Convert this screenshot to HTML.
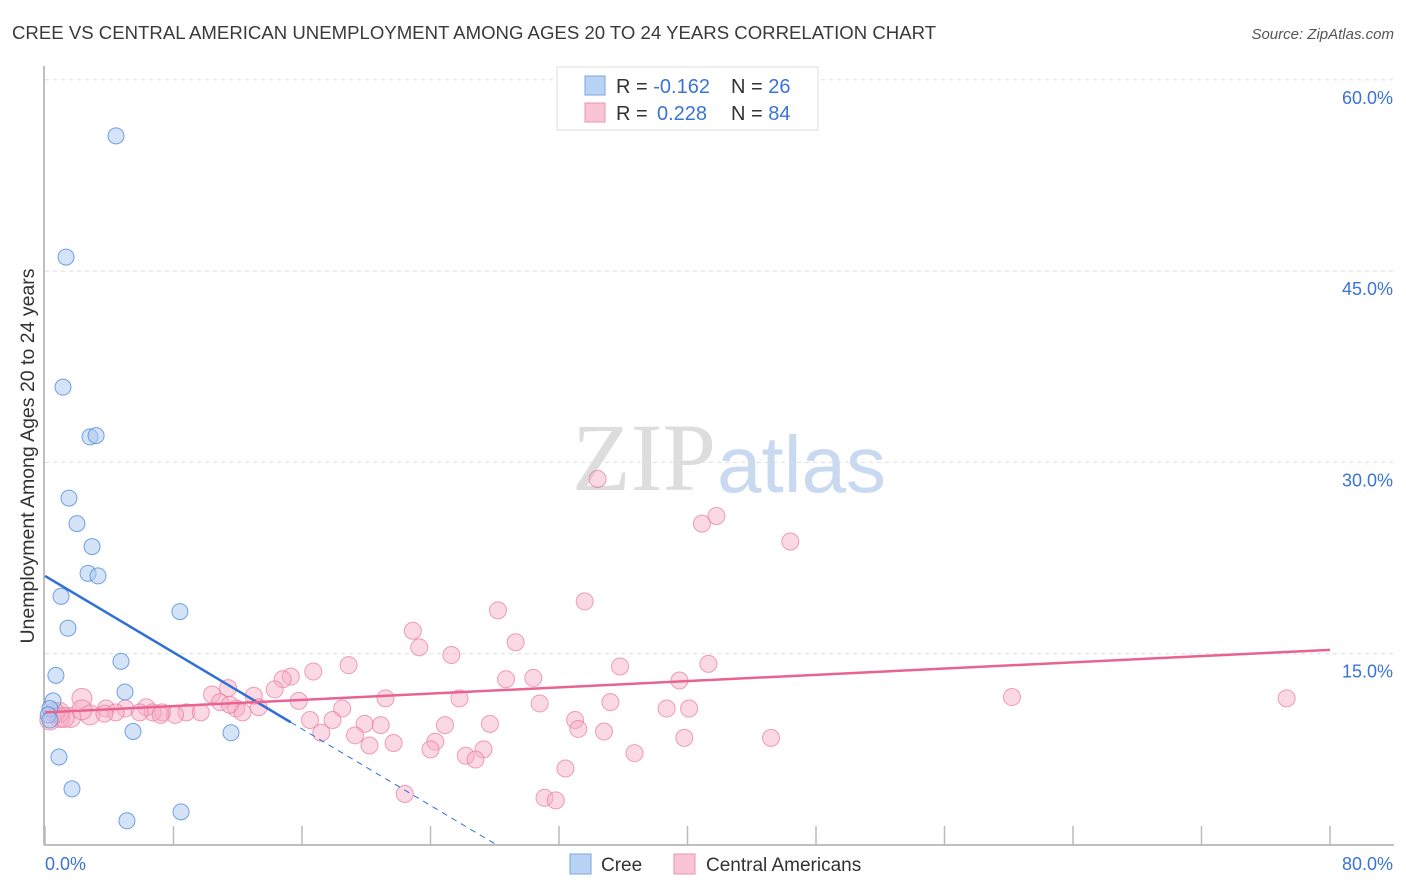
<!DOCTYPE html>
<html><head><meta charset="utf-8"><style>
body{margin:0;background:#fff;font-family:"Liberation Sans",sans-serif;}
svg{display:block}
</style></head><body>
<svg id="c" width="1406" height="892">
<text x="12" y="39" font-size="18.6" fill="#3a3a3a">CREE VS CENTRAL AMERICAN UNEMPLOYMENT AMONG AGES 20 TO 24 YEARS CORRELATION CHART</text>
<text x="1394" y="39" font-size="15" fill="#555" font-style="italic" text-anchor="end">Source: ZipAtlas.com</text>
<text x="716" y="490" font-size="96" font-family="Liberation Serif,serif" fill="#ddd" text-anchor="end">ZIP</text>
<text x="717" y="492" font-size="80" fill="#c9daf0">atlas</text>
<text transform="translate(34,456) rotate(-90)" font-size="19.5" fill="#333" text-anchor="middle">Unemployment Among Ages 20 to 24 years</text>
<g id="grid"></g><g id="pts"></g><g id="lines"></g>
<g>
<rect x="557" y="67" width="261" height="63" fill="#fff" stroke="#ddd"/>
<rect x="585" y="76" width="20" height="19" fill="#b9d3f5" stroke="#7aa5e0"/>
<rect x="585" y="103" width="20" height="19" fill="#f9c5d5" stroke="#ec93b0"/>
<text x="616" y="93" font-size="20" fill="#333">R = <tspan fill="#3a74d4">-0.162</tspan><tspan x="731">N = </tspan><tspan fill="#3a74d4">26</tspan></text>
<text x="616" y="120" font-size="20" fill="#333">R = <tspan x="657" fill="#3a74d4">0.228</tspan><tspan x="731">N = </tspan><tspan fill="#3a74d4">84</tspan></text>
</g>
<g>
<rect x="570" y="854" width="21" height="20" fill="#b9d3f5" stroke="#7aa5e0"/>
<text x="601" y="871" font-size="19" fill="#333">Cree</text>
<rect x="674" y="854" width="21" height="20" fill="#f9c5d5" stroke="#ec93b0"/>
<text x="706" y="871" font-size="19" fill="#333">Central Americans</text>
</g>
</svg>
<script>
const xTicks=[0,8,16,24,32,40,48,56,64,72,80];
const yTicks=[15,30,45,60];
const creeX=[4.42,1.31,1.12,2.8,3.18,1.49,1.99,2.93,2.68,3.3,1.0,1.43,8.4,4.73,0.68,4.98,0.5,0.3,0.2,0.3,5.48,11.58,0.87,1.68,8.47,5.1];
const creeY=[55.6,46.1,35.9,32.0,32.1,27.2,25.2,23.4,21.3,21.1,19.5,17.0,18.3,14.4,13.3,12.0,11.3,10.7,10.2,9.8,8.9,8.8,6.9,4.4,2.6,1.9];
const caX=[34.4,41.8,40.9,46.4,33.6,28.2,22.9,29.3,23.3,25.3,41.3,35.8,18.9,16.7,15.3,14.8,30.4,28.7,39.5,14.3,13.0,10.4,11.4,21.2,25.8,35.2,60.2,77.3,2.3,15.8,18.5,30.8,38.7,40.1,10.9,11.9,12.3,13.3,6.3,5.0,3.8,7.3,8.8,9.7,8.1,6.7,4.4,2.8,1.6,0.9,0.3,16.5,17.9,19.9,20.9,24.9,27.7,33.0,33.2,34.8,17.2,19.3,20.2,21.7,24.3,24.0,39.8,45.2,27.3,36.7,26.2,26.8,32.4,22.4,31.1,31.8,2.3,0.9,3.7,5.9,7.2,11.5,0.6,1.2];
const caY=[28.7,25.8,25.2,23.8,19.1,18.4,16.8,15.9,15.5,14.9,14.2,14.0,14.1,13.6,13.2,13.0,13.1,13.0,12.9,12.2,11.7,11.8,12.3,11.5,11.5,11.2,11.6,11.5,11.5,11.3,10.7,11.1,10.7,10.7,11.2,10.7,10.4,10.8,10.8,10.7,10.7,10.4,10.4,10.4,10.2,10.4,10.4,10.2,10.0,10.0,9.8,9.8,9.8,9.5,9.4,9.4,9.5,9.8,9.1,8.9,8.8,8.6,7.8,8.0,8.1,7.5,8.4,8.4,7.5,7.2,7.0,6.7,6.0,4.0,3.7,3.5,10.6,10.4,10.3,10.4,10.2,11.0,10.4,10.0];
const creeTrend=[21.1,-0.75];
const caTrend=[10.4,0.0613];
const NS="http://www.w3.org/2000/svg";
const X=v=>45+v/80*1285, Y=v=>845-v/15*191.3;
function mk(t,a,p){const e=document.createElementNS(NS,t);for(const k in a)e.setAttribute(k,a[k]);p.appendChild(e);return e;}
const g=document.getElementById('grid');
yTicks.forEach(t=>{
 const l=mk('line',{x1:45,x2:1394,y1:Y(t),y2:Y(t),stroke:'#ddd','stroke-dasharray':'4,4'},g);
 
 
 const tx=mk('text',{x:1393,y:Y(t)+24,'font-size':18,fill:'#3a74d4','text-anchor':'end'},g);
 tx.textContent=t.toFixed(1)+'%';
 
 
});
const ax=mk('line',{x1:44,x2:1394,y1:845,y2:845,stroke:'#aaa','stroke-width':1.5},g);


const ay=mk('line',{x1:44,x2:44,y1:66,y2:845,stroke:'#aaa','stroke-width':1.5},g);


xTicks.forEach(t=>{
 const l=mk('line',{x1:X(t),x2:X(t),y1:826,y2:845,stroke:'#bbb','stroke-width':1.5},g);
 
 
});
[[0,'start',45],[80,'end',1393]].forEach(([t,a,x])=>{
 const tx=mk('text',{x:x,y:870,'font-size':18,fill:'#3a74d4','text-anchor':a},g);
 tx.textContent=t.toFixed(1)+'%';
 
 
});
const p=document.getElementById('pts');
caX.forEach((x,i)=>{
 const big=x<3.5?10:8.5;
 const c=mk('circle',{cx:X(x),cy:Y(caY[i]),r:big,fill:'rgba(246,170,195,0.45)',stroke:'rgba(232,120,160,0.7)'},p);
 
 
});
creeX.forEach((x,i)=>{
 const c=mk('circle',{cx:X(x),cy:Y(creeY[i]),r:8,fill:'rgba(170,200,240,0.5)',stroke:'rgba(80,140,220,0.8)'},p);
 
 
});
const L=document.getElementById('lines');
const f=(tr,x)=>tr[0]+tr[1]*x;
const cl=mk('line',{x1:X(0),y1:Y(f(creeTrend,0)),x2:X(15.3),y2:Y(f(creeTrend,15.3)),stroke:'#2f6fd6','stroke-width':2.5},L);


const xe=-creeTrend[0]/creeTrend[1];
const cd=mk('line',{x1:X(15.3),y1:Y(f(creeTrend,15.3)),x2:X(xe),y2:Y(0),stroke:'#2f6fd6','stroke-width':1,'stroke-dasharray':'6,5'},L);


const pl=mk('line',{x1:X(0),y1:Y(f(caTrend,0)),x2:X(80),y2:Y(f(caTrend,80)),stroke:'#e8638f','stroke-width':2.5},L);


</script>
</body></html>
